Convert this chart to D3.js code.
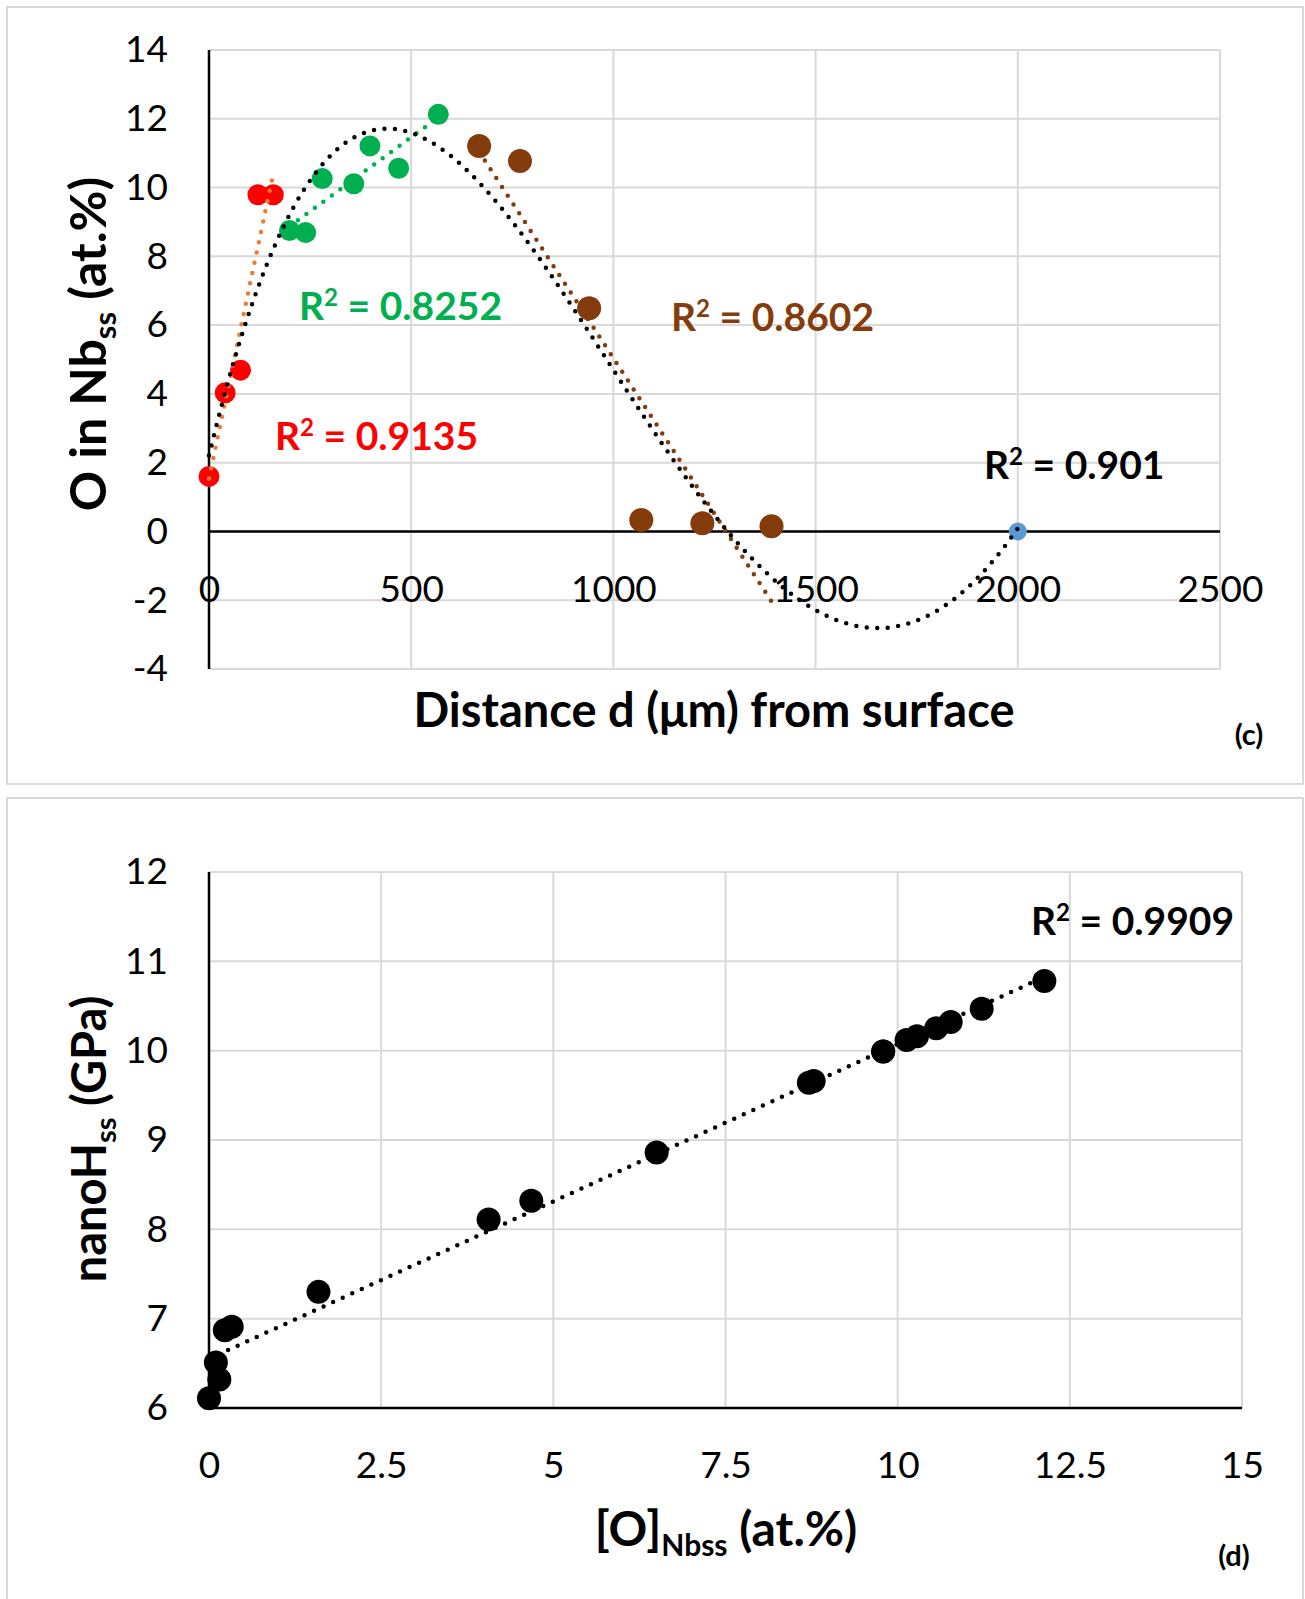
<!DOCTYPE html>
<html>
<head>
<meta charset="utf-8">
<script src="https://cdn.jsdelivr.net/npm/d3@7"></script>
<style>
  body { margin: 0; background: #fff; }
  text { font-family: Lato, "Open Sans", sans-serif; }
</style>
</head>
<body>
<script>
const width = 1305;
const height = 1599;

// (c) O in Nb_ss vs distance from surface
const redDist = [0, 40, 78, 121, 159];
const redO = [1.6, 4.03, 4.69, 9.79, 9.79];
const greenDist = [199, 239, 280, 358, 398, 469, 567];
const greenO = [8.75, 8.69, 10.26, 10.11, 11.21, 10.56, 12.13];
const brownDist = [668, 769, 940, 1069, 1220, 1391];
const brownO = [11.21, 10.77, 6.49, 0.33, 0.24, 0.15];
const edgeDist = [2000];
const edgeO = [0];
const distTicks = [0, 500, 1000, 1500, 2000, 2500];
const oTicks = [-4, -2, 0, 2, 4, 6, 8, 10, 12, 14];

// (d) nanohardness vs O content
const oNbss = [0, 0.15, 0.1, 0.23, 0.33, 1.59, 4.06, 4.68, 6.5, 8.71, 8.78, 9.79, 9.79, 10.13, 10.28, 10.56, 10.77, 11.22, 12.13];
const nanoH = [6.11, 6.32, 6.51, 6.87, 6.91, 7.3, 8.11, 8.32, 8.86, 9.64, 9.66, 9.99, 9.99, 10.12, 10.16, 10.25, 10.32, 10.47, 10.78];
const oNbssTicks = [0, 2.5, 5, 7.5, 10, 12.5, 15];
const hTicks = [6, 7, 8, 9, 10, 11, 12];

// least squares polynomial, x scaled by s to keep the normal equations sane
function polyfit(xs, ys, order, s) {
  const n = order + 1;
  const A = d3.range(n).map(() => new Array(n + 1).fill(0));
  xs.forEach((x0, k) => {
    const x = x0 / s;
    for (let i = 0; i < n; i++) {
      for (let j = 0; j < n; j++) A[i][j] += Math.pow(x, i + j);
      A[i][n] += ys[k] * Math.pow(x, i);
    }
  });
  for (let c = 0; c < n; c++) {
    let p = c;
    for (let r = c + 1; r < n; r++) if (Math.abs(A[r][c]) > Math.abs(A[p][c])) p = r;
    [A[c], A[p]] = [A[p], A[c]];
    for (let r = 0; r < n; r++) {
      if (r === c) continue;
      const f = A[r][c] / A[c][c];
      for (let k = c; k <= n; k++) A[r][k] -= f * A[c][k];
    }
  }
  const coef = A.map((row, i) => row[n] / row[i]);
  return x => coef.reduce((acc, c, i) => acc + c * Math.pow(x / s, i), 0);
}

const svg = d3.select("body").append("svg")
    .attr("width", width)
    .attr("height", height);

// chart frames
svg.append("rect")
    .attr("x", 7).attr("y", 7).attr("width", 1296).attr("height", 777)
    .attr("fill", "none").attr("stroke", "#d9d9d9").attr("stroke-width", 2);
svg.append("rect")
    .attr("x", 7).attr("y", 798).attr("width", 1296).attr("height", 820)
    .attr("fill", "none").attr("stroke", "#d9d9d9").attr("stroke-width", 2);

function grid(g, x, y, xt, yt) {
  g.append("g").selectAll("line").data(yt).join("line")
      .attr("x1", x.range()[0]).attr("x2", x.range()[1])
      .attr("y1", d => y(d)).attr("y2", d => y(d))
      .attr("stroke", "#d9d9d9").attr("stroke-width", 2);
  g.append("g").selectAll("line").data(xt).join("line")
      .attr("x1", d => x(d)).attr("x2", d => x(d))
      .attr("y1", y.range()[0]).attr("y2", y.range()[1])
      .attr("stroke", "#d9d9d9").attr("stroke-width", 2);
}

function ticks(g, axis, fontSize) {
  g.call(axis);
  g.select(".domain").remove();
  g.selectAll(".tick line").remove();
  g.selectAll(".tick text")
      .attr("fill", "#000")
      .attr("font-size", fontSize)
      .attr("font-family", "Lato, 'Open Sans', sans-serif");
}

function trend(g, f, x0, x1, x, y, color) {
  const xs = d3.range(201).map(i => x0 + (x1 - x0) * i / 200);
  g.append("path")
      .attr("d", d3.line().x(d => x(d)).y(d => y(f(d)))(xs))
      .attr("fill", "none")
      .attr("stroke", color)
      .attr("stroke-width", 4.5)
      .attr("stroke-linecap", "round")
      .attr("stroke-dasharray", "0 10.5");
}

function dots(g, xs, ys, x, y, r, color) {
  g.append("g").selectAll("circle").data(xs).join("circle")
      .attr("cx", d => x(d))
      .attr("cy", (d, i) => y(ys[i]))
      .attr("r", r)
      .attr("fill", color);
}

// "R² = value" with a real superscript 2
function label(g, x, y, value, color, size) {
  const t = g.append("text").attr("x", x).attr("y", y)
      .attr("fill", color).attr("font-size", size).attr("font-weight", 700);
  t.append("tspan").text("R");
  t.append("tspan").attr("font-size", size * 0.62).attr("dy", -size * 0.36).text("2");
  t.append("tspan").attr("dy", size * 0.36).text(" = " + value);
}

// ---------- (c) ----------
const xc = d3.scaleLinear().domain([0, 2500]).range([209, 1220]);
const yc = d3.scaleLinear().domain([-4, 14]).range([669, 50]);
const gc = svg.append("g");

grid(gc, xc, yc, distTicks, oTicks);

ticks(gc.append("g").attr("transform", `translate(0,${yc(0)})`),
    d3.axisBottom(xc).tickValues(distTicks).tickFormat(String).tickSize(0).tickPadding(44), 37);
ticks(gc.append("g").attr("transform", `translate(${xc(0)},0)`),
    d3.axisLeft(yc).tickValues(oTicks).tickFormat(String).tickSize(0).tickPadding(41), 37);

gc.append("line")
    .attr("x1", xc(0)).attr("x2", xc(0)).attr("y1", yc(14)).attr("y2", yc(-4))
    .attr("stroke", "#000").attr("stroke-width", 2.5);
gc.append("line")
    .attr("x1", xc(0)).attr("x2", xc(2500)).attr("y1", yc(0)).attr("y2", yc(0))
    .attr("stroke", "#000").attr("stroke-width", 2.5);

// whole profile series (only its last point shows), coloured subsets on top
const allDist = redDist.concat(greenDist, brownDist, edgeDist);
const allO = redO.concat(greenO, brownO, edgeO);
dots(gc, allDist, allO, xc, yc, 9, "#5b9bd5");
dots(gc, redDist, redO, xc, yc, 10.5, "#ff0000");
dots(gc, greenDist, greenO, xc, yc, 10.5, "#00b050");
dots(gc, brownDist, brownO, xc, yc, 12, "#843c0c");

trend(gc, polyfit(redDist, redO, 1, 1000), d3.min(redDist), d3.max(redDist), xc, yc, "#ed7d31");
trend(gc, polyfit(greenDist, greenO, 1, 1000), d3.min(greenDist), d3.max(greenDist), xc, yc, "#00b050");
trend(gc, polyfit(brownDist, brownO, 1, 1000), d3.min(brownDist), d3.max(brownDist), xc, yc, "#843c0c");
trend(gc, polyfit(allDist, allO, 4, 1000), d3.min(allDist), d3.max(allDist), xc, yc, "#000");

label(gc, 299, 320, "0.8252", "#00b050", 39);
label(gc, 671, 331, "0.8602", "#843c0c", 39);
label(gc, 275, 450, "0.9135", "#ff0000", 39);
label(gc, 984, 479, "0.901", "#000", 39);

const ytc = gc.append("text")
    .attr("transform", `translate(106,${344}) rotate(-90)`)
    .attr("text-anchor", "middle").attr("font-size", 50).attr("font-weight", 700);
ytc.append("tspan").text("O in Nb");
ytc.append("tspan").attr("font-size", 31).attr("dy", 10).text("ss");
ytc.append("tspan").attr("dy", -10).text(" (at.%)");

gc.append("text").attr("x", 714).attr("y", 727)
    .attr("text-anchor", "middle").attr("font-size", 47).attr("font-weight", 700)
    .text("Distance d (μm) from surface");
gc.append("text").attr("x", 1249).attr("y", 745)
    .attr("text-anchor", "middle").attr("font-size", 29).attr("font-weight", 700)
    .text("(c)");

// ---------- (d) ----------
const xd = d3.scaleLinear().domain([0, 15]).range([209, 1242]);
const yd = d3.scaleLinear().domain([6, 12]).range([1408, 872]);
const gd = svg.append("g");

grid(gd, xd, yd, oNbssTicks, hTicks);

ticks(gd.append("g").attr("transform", `translate(0,${yd(6)})`),
    d3.axisBottom(xd).tickValues(oNbssTicks).tickFormat(String).tickSize(0).tickPadding(44), 37);
ticks(gd.append("g").attr("transform", `translate(${xd(0)},0)`),
    d3.axisLeft(yd).tickValues(hTicks).tickFormat(String).tickSize(0).tickPadding(41), 37);

gd.append("line")
    .attr("x1", xd(0)).attr("x2", xd(0)).attr("y1", yd(12)).attr("y2", yd(6))
    .attr("stroke", "#000").attr("stroke-width", 2.5);
gd.append("line")
    .attr("x1", xd(0)).attr("x2", xd(15)).attr("y1", yd(6)).attr("y2", yd(6))
    .attr("stroke", "#000").attr("stroke-width", 2.5);

dots(gd, oNbss, nanoH, xd, yd, 12, "#000");
trend(gd, polyfit(oNbss, nanoH, 1, 10), d3.min(oNbss), d3.max(oNbss), xd, yd, "#000");

label(gd, 1031, 935, "0.9909", "#000", 39);

const ytd = gd.append("text")
    .attr("transform", `translate(106,${1139}) rotate(-90)`)
    .attr("text-anchor", "middle").attr("font-size", 47).attr("font-weight", 700);
ytd.append("tspan").text("nanoH");
ytd.append("tspan").attr("font-size", 29).attr("dy", 10).text("ss");
ytd.append("tspan").attr("dy", -10).text(" (GPa)");

const xtd = gd.append("text")
    .attr("x", 726).attr("y", 1546)
    .attr("text-anchor", "middle").attr("font-size", 48).attr("font-weight", 700);
xtd.append("tspan").text("[O]");
xtd.append("tspan").attr("font-size", 30).attr("dy", 10).text("Nbss");
xtd.append("tspan").attr("dy", -10).text(" (at.%)");

gd.append("text").attr("x", 1234).attr("y", 1566)
    .attr("text-anchor", "middle").attr("font-size", 29).attr("font-weight", 700)
    .text("(d)");
</script>
</body>
</html>
